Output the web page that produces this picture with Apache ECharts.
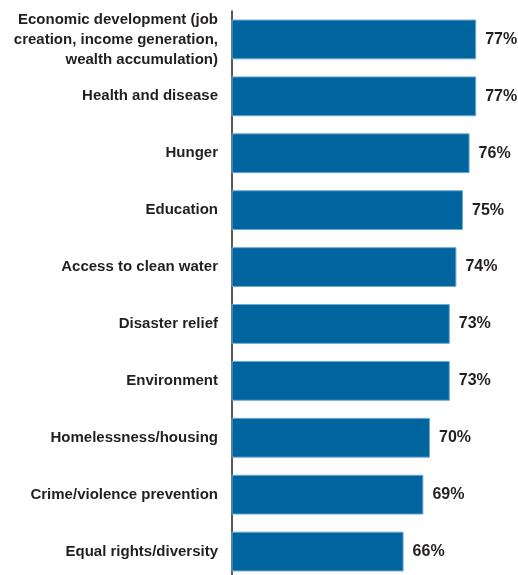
<!DOCTYPE html>
<html>
<head>
<meta charset="utf-8">
<script src="https://cdn.jsdelivr.net/npm/echarts@6/dist/echarts.min.js"></script>
<style>html,body{margin:0;padding:0;background:#fff}#c{width:518px;height:575px}</style>
</head>
<body>
<div id="c"></div>
<script>
const categories = [
  "Economic development (job\ncreation, income generation,\nwealth accumulation)",
  "Health and disease",
  "Hunger",
  "Education",
  "Access to clean water",
  "Disaster relief",
  "Environment",
  "Homelessness/housing",
  "Crime/violence prevention",
  "Equal rights/diversity"
];
const values = [77, 77, 76, 75, 74, 73, 73, 70, 69, 66];

const FONT = '"Liberation Sans Narrow", "Arial Narrow", "Liberation Sans", sans-serif';
const chart = echarts.init(document.getElementById('c'), null, {renderer: 'canvas'});
chart.setOption({
  animation: false,
  grid: {left: 232, width: 264, top: 11, height: 569, containLabel: false, outerBoundsMode: 'none'},
  xAxis: {
    type: 'value', min: 40, max: 80,
    show: false
  },
  yAxis: {
    type: 'category', data: categories, inverse: true,
    axisLine: {show: true, lineStyle: {color: '#231f20', width: 1.5}},
    axisTick: {show: false},
    splitLine: {show: false},
    axisLabel: {
      color: '#231f20', fontFamily: FONT, fontWeight: 'bold', fontSize: 15,
      lineHeight: 20, margin: 14, align: 'right'
    }
  },
  series: [{
    type: 'bar', data: values, barCategoryGap: '30%',
    itemStyle: {color: '#00659e', borderColor: '#6fa9d6', borderWidth: 1},
    label: {
      show: true, position: 'right', distance: 9,
      formatter: p => p.value + '%',
      color: '#231f20', fontFamily: FONT, fontWeight: 'bold', fontSize: 16
    }
  }]
});
</script>
</body>
</html>
